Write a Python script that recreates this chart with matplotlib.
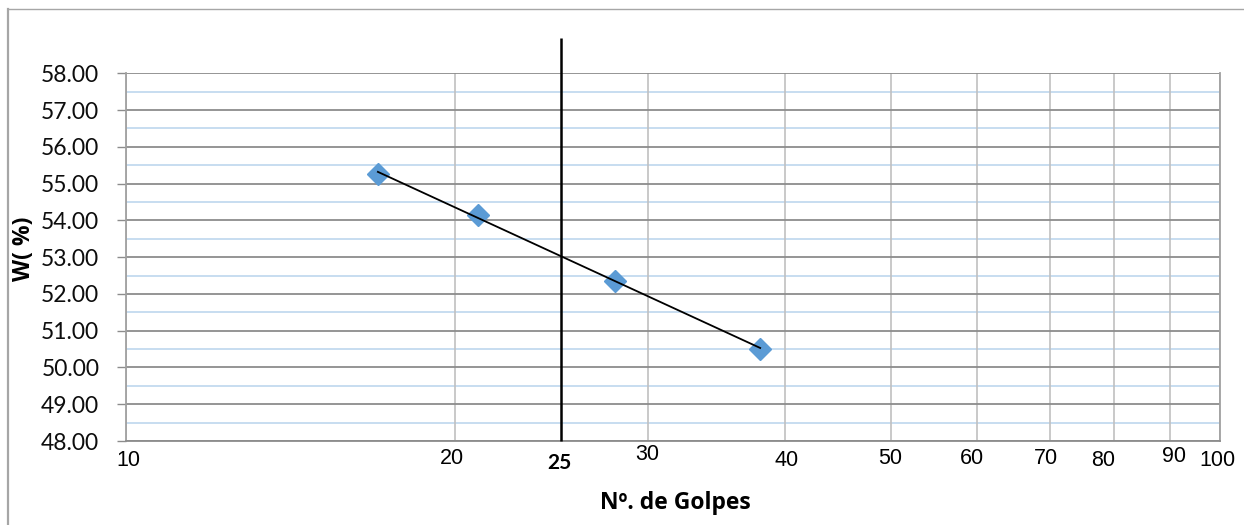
import numpy as np
import matplotlib
matplotlib.use("Agg")
import matplotlib.pyplot as plt
from matplotlib.lines import Line2D
from matplotlib.transforms import ScaledTranslation, blended_transform_factory

# ---- data ----
golpes = [17.0, 21.0, 28.0, 38.0]
humedad = [55.25, 54.15, 52.36, 50.50]
x_ticks = [10, 20, 30, 40, 50, 60, 70, 80, 90, 100]
x_tick_labels = ["10", "20", "30", "40", "50", "60", "70", "80", "90", "100"]
# vertical offsets (px, downward) / horizontal offsets of the staggered labels
x_label_dy = [20, 18, 14, 20, 18, 18, 17, 20, 15, 19]
x_label_dx = [3, -3, -1, 2, 0, -5, -5, -11, 4, -3]
ref_golpes = 25
y_ticks = [48, 49, 50, 51, 52, 53, 54, 55, 56, 57, 58]
y_tick_labels = ["%.2f" % v for v in y_ticks]
y_minor = [48.5, 49.5, 50.5, 51.5, 52.5, 53.5, 54.5, 55.5, 56.5, 57.5]

W, H = 1244, 525
DPI = 100
fig = plt.figure(figsize=(W / DPI, H / DPI), dpi=DPI)
fig.patch.set_facecolor("white")

left, right, top, bottom = 125.7, 1220, 73.3, 441
ax = fig.add_axes([left / W, 1 - bottom / H, (right - left) / W, (bottom - top) / H])
ax.set_xscale("log")
ax.set_xlim(10, 100)
ax.set_ylim(48, 58)

# grid
for v in y_minor:
    ax.axhline(v, color="#BDD7EE", lw=1.2, zorder=1)
for v in x_ticks:
    ax.axvline(v, color="#C0C0C0", lw=1.2, zorder=1)
for v in y_ticks:
    ax.axhline(v, color="#8C8C8C", lw=1.3, zorder=1.5)

ax.spines["top"].set_visible(False)
ax.spines["left"].set_color("#A0A0A0")
ax.spines["left"].set_linewidth(1.3)
ax.spines["right"].set_color("#A0A0A0")
ax.spines["right"].set_linewidth(1.3)
ax.spines["bottom"].set_color("#8C8C8C")
ax.spines["bottom"].set_linewidth(1.3)

ax.set_yticks(y_ticks)
ax.set_yticklabels(y_tick_labels, fontsize=16.5, fontfamily="Lato", color="#0d0d0d")
ax.tick_params(axis="y", length=6.5, width=1.0, color="#8C8C8C", pad=12.5)
ax.set_xticks([])
ax.set_xticks([], minor=True)

# staggered x labels
bt = blended_transform_factory(ax.transData, ax.transAxes)
for xv, lab, dy, dx in zip(x_ticks, x_tick_labels, x_label_dy, x_label_dx):
    tr = bt + ScaledTranslation(dx / DPI, -dy / DPI, fig.dpi_scale_trans)
    ax.text(xv, 0, lab, transform=tr, ha="center", va="center",
            fontsize=15.5, fontfamily="Liberation Sans", color="#000000")
tr = bt + ScaledTranslation(-2 / DPI, -22 / DPI, fig.dpi_scale_trans)
ax.text(ref_golpes, 0, str(ref_golpes), transform=tr, ha="center", va="center",
        fontsize=15, fontweight="bold", fontfamily="Lato")

# reference vertical line (extends above plot)
ax.plot([ref_golpes, ref_golpes], [48, 58 + 35.3 / 36.8], color="black", lw=1.8,
        clip_on=False, zorder=4, solid_capstyle="butt")

# trend line (log fit)
lx = np.log(np.array(golpes))
b, a = np.polyfit(lx, np.array(humedad), 1)
xt = np.array([min(golpes), max(golpes)])
ax.plot(xt, a + b * np.log(xt), color="black", lw=1.3, zorder=5)

ax.plot(golpes, humedad, linestyle="none", marker="D", markersize=11,
        color="#5B9BD5", markeredgecolor="#5B9BD5", zorder=4.5)

# axis titles
fig.text(675 / W, 1 - 503 / H, "Nº. de Golpes", ha="center", va="center",
         fontsize=16.5, fontweight="bold", fontfamily="Open Sans")
fig.text(24 / W, 1 - 249 / H, "W( %)", ha="center", va="center", rotation=90,
         fontsize=16.5, fontweight="bold", fontfamily="Open Sans")

# chart-area border (left and top visible)
fig.add_artist(Line2D([8 / W, 8 / W], [0, 1 - 9 / H], color="#A6A6A6", lw=1.6,
                      transform=fig.transFigure))
fig.add_artist(Line2D([8 / W, 1], [1 - 9 / H, 1 - 9 / H], color="#A6A6A6", lw=1.0,
                      transform=fig.transFigure))

fig.savefig("out.png", dpi=DPI)
